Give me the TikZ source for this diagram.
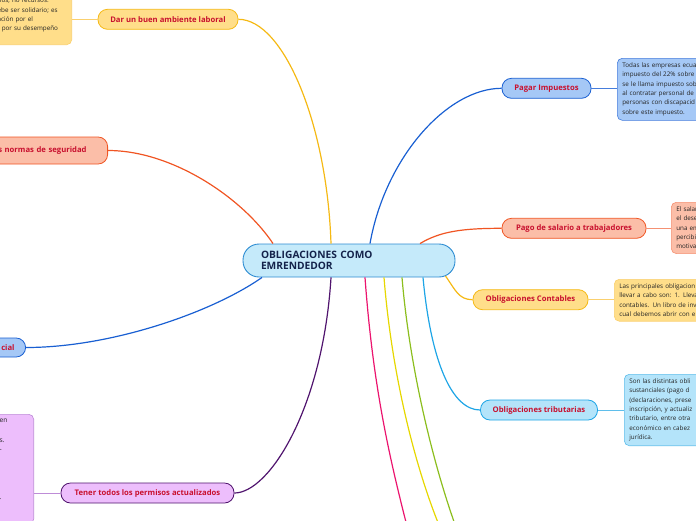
\documentclass[tikz,border=0pt]{standalone}
\usepackage{fontspec}
\setmainfont{Open Sans}
\usetikzlibrary{calc}
\definecolor{rootfill}{RGB}{197,234,250}
\definecolor{rootline}{RGB}{45,140,210}
\definecolor{rootink}{RGB}{20,35,75}
\definecolor{topicink}{RGB}{200,16,46}
\definecolor{noteink}{RGB}{35,35,35}
\definecolor{yelfill}{RGB}{255,222,138}
\definecolor{yelline}{RGB}{245,185,20}
\definecolor{yelnote}{RGB}{250,208,110}
\definecolor{bluefill}{RGB}{165,200,246}
\definecolor{blueline}{RGB}{25,95,210}
\definecolor{bluenote}{RGB}{70,125,220}
\definecolor{salfill}{RGB}{251,190,168}
\definecolor{salline}{RGB}{240,85,35}
\definecolor{salnote}{RGB}{245,145,115}
\definecolor{cyanfill}{RGB}{180,228,250}
\definecolor{cyanline}{RGB}{30,165,230}
\definecolor{cyannote}{RGB}{95,190,235}
\definecolor{violfill}{RGB}{237,190,252}
\definecolor{violline}{RGB}{80,20,110}
\definecolor{violnote}{RGB}{190,140,215}
\definecolor{magline}{RGB}{235,20,110}
\definecolor{lemline}{RGB}{230,215,0}
\definecolor{grnline}{RGB}{140,190,30}
\tikzset{
  root/.style   = {draw=rootline, fill=rootfill, rounded corners=16pt, line width=0.9pt,
                   minimum width=212pt, minimum height=33pt, text width=176pt, align=left,
                   inner sep=0pt, font=\fontsize{10.2}{11.5}\selectfont\bfseries, text=rootink},
  topic/.style  = {rounded corners=9.5pt, line width=0.8pt, minimum height=20pt, inner sep=0pt,
                   align=center, font=\fontsize{7.7}{9}\selectfont\bfseries, text=topicink},
  note/.style   = {rounded corners=5pt, line width=0.6pt, inner xsep=5pt, inner ysep=4.5pt,
                   align=left, font=\fontsize{6.3}{9.35}\selectfont, text=noteink},
  link/.style   = {line width=1.2pt},
  leader/.style = {line width=0.9pt},
}
\begin{document}
\begin{tikzpicture}[x=1pt, y=-1pt]
  \useasboundingbox (0,0) rectangle (696,520);
  \clip (0,0) rectangle (696,520);
  % central topic
  \node[root] (root) at (349,260.5) {OBLIGACIONES COMO\\EMRENDEDOR};
  % main topics
  \node[topic, draw=yelline, fill=yelfill, minimum width=140pt] (ambiente) at (168,19.3) {Dar un buen ambiente laboral};
  \node[topic, draw=blueline, fill=bluefill, minimum width=89pt] (impuestos) at (546.5,88.3) {Pagar Impuestos};
  \node[topic, draw=salline, fill=salfill, minimum width=144pt] (salario) at (574,228.3) {Pago de salario a trabajadores};
  \node[topic, draw=yelline, fill=yelfill, minimum width=115pt] (contables) at (530.5,299.7) {Obligaciones Contables};
  \node[topic, draw=cyanline, fill=cyanfill, minimum width=117pt] (tributarias) at (539,410) {Obligaciones tributarias};
  \node[topic, draw=violline, fill=violfill, minimum width=173pt] (permisos) at (147.5,493) {Tener todos los permisos actualizados};
  \node[topic, draw=salline, fill=salfill, minimum height=27pt, text width=120pt, align=right,
        inner xsep=21pt, anchor=east] (seguridad) at (108,150.5) {s normas de seguridad};
  \node[topic, draw=blueline, fill=bluefill, minimum height=19pt, text width=60pt, align=right,
        inner xsep=11pt, anchor=east] (social) at (26,347.5) {cial};
  % notes
  \node[note, draw=yelnote, fill=yelfill, text width=69pt, anchor=south east] (n-ambiente) at (72,45)
    {nos, no recursos.\\ebe ser solidario; es\\ación por el\\- por su desempeño\\~};
  \node[note, draw=bluenote, fill=bluefill, text width=110pt, anchor=north west] (n-impuestos) at (617,58)
    {Todas las empresas ecua\\impuesto del 22\% sobre\\se le llama impuesto sob\\al contratar personal de\\personas con discapacid\\sobre este impuesto.};
  \node[note, draw=salnote, fill=salfill, text width=110pt, anchor=north west] (n-salario) at (671,202)
    {El salar\\el dese\\una em\\percibi\\motiva};
  \node[note, draw=yelnote, fill=yelfill, text width=110pt, anchor=north west] (n-contables) at (614,279)
    {Las principales obligacion\\llevar a cabo son: 1. Lleva\\contables. Un libro de inv\\cual debemos abrir con e};
  \node[note, draw=cyannote, fill=cyanfill, text width=110pt, anchor=north west] (n-tributarias) at (624,374)
    {Son las distintas obli\\sustanciales (pago d\\(declaraciones, prese\\inscripción, y actualiz\\tributario, entre otra\\económico en cabez\\jurídica.};
  \node[note, draw=violnote, fill=violfill, text width=29pt, inner ysep=5pt, anchor=north east,
        font=\fontsize{6.6}{9.6}\selectfont] (n-permisos) at (34,414)
    {en\\~\\s.\\-\\~\\~\\~\\~\\.\\~\\~};
  % off-picture ends of the lower branches
  \coordinate (low1) at (408,530);
  \coordinate (low2) at (441,530);
  \coordinate (low3) at (457,530);
  % connectors from the central topic
  \draw[link, yelline] ([xshift=-18pt]root.north) .. controls +(-4,-120) and +(45,0) .. (ambiente.east);
  \draw[link, blueline] ([xshift=21pt]root.north) .. controls +(15,-85) and +(-55,0) .. (impuestos.west);
  \draw[link, salline] ([xshift=71pt]root.north) .. controls +(20,-12) and +(-40,0) .. (salario.west);
  \draw[link, yelline] ([xshift=-10pt]root.south east) ++(0,-1.5) .. controls +(10,14) and +(-14,0) .. (contables.west);
  \draw[link, cyanline] ([xshift=74pt]root.south) .. controls +(8,85) and +(-28,0) .. (tributarias.west);
  \draw[link, violline] ([xshift=-18pt]root.south) .. controls +(-8,130) and +(35,0) .. (permisos.east);
  \draw[link, salline] ([xshift=-76pt]root.north) .. controls +(-30,-45) and +(65,0) .. (seguridad.east);
  \draw[link, blueline] ([xshift=-87pt]root.south) .. controls +(-50,35) and +(85,0) .. (social.east);
  \draw[link, magline] ([xshift=16pt]root.south) .. controls +(8,110) and +(-18,-70) .. (low1);
  \draw[link, lemline] ([xshift=35pt]root.south) .. controls +(8,100) and +(-25,-60) .. (low2);
  \draw[link, grnline] ([xshift=53pt]root.south) .. controls +(8,95) and +(-22,-60) .. (low3);
  % leaders to the notes
  \draw[leader, yelnote] (ambiente.west) -- (ambiente.west -| n-ambiente.east);
  \draw[leader, bluenote] (impuestos.east) -- (impuestos.east -| n-impuestos.west);
  \draw[leader, salnote] (salario.east) -- (salario.east -| n-salario.west);
  \draw[leader, yelnote] (contables.east) -- (contables.east -| n-contables.west);
  \draw[leader, cyannote] (tributarias.east) -- (tributarias.east -| n-tributarias.west);
  \draw[leader, violnote] (permisos.west) -- (permisos.west -| n-permisos.east);
\end{tikzpicture}
\end{document}
